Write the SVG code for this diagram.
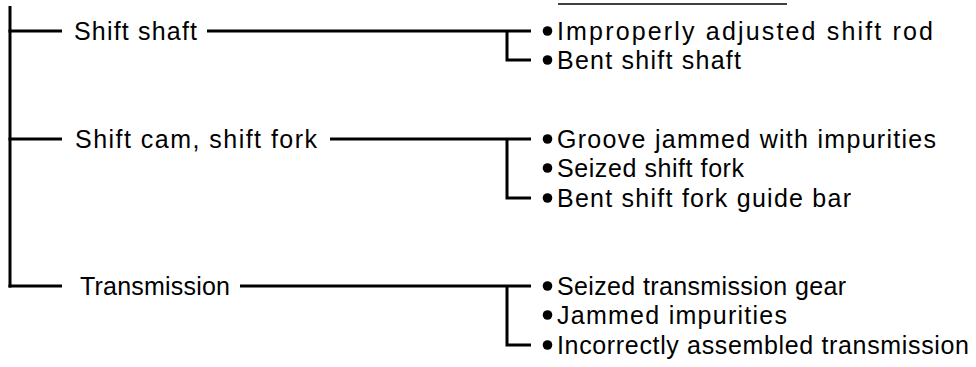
<svg xmlns="http://www.w3.org/2000/svg" width="976" height="367" viewBox="0 0 976 367">
<style>
  .ln { stroke: #000; stroke-width: 3; fill: none; stroke-linecap: butt; }
  .thin { stroke: #000; stroke-width: 1.4; fill: none; }
  .t { font-family: "Liberation Sans", Arial, sans-serif; font-size: 25px; fill: #000; }
  .dot { fill: #000; }
</style>
<rect width="976" height="367" fill="#fff"/>
<line class="thin" x1="558" y1="4" x2="787" y2="4"/>
<g id="connectors">
  <line class="ln" x1="10" y1="6" x2="10" y2="287.5"/>
  <line class="ln" x1="8.5" y1="31" x2="62" y2="31"/>
  <line class="ln" x1="8.5" y1="139" x2="62" y2="139"/>
  <line class="ln" x1="8.5" y1="286" x2="62" y2="286"/>
  <line class="ln" x1="207" y1="31" x2="531" y2="31"/>
  <polyline class="ln" points="507,31 507,60 531,60"/>
  <line class="ln" x1="330" y1="139" x2="531" y2="139"/>
  <polyline class="ln" points="507,139 507,198 531,198"/>
  <line class="ln" x1="240" y1="286" x2="531" y2="286"/>
  <polyline class="ln" points="507,286 507,345 531,345"/>
</g>
<g id="n-shift-shaft"><text class="t" x="74" y="39.5" textLength="123" lengthAdjust="spacing">Shift shaft</text></g>
<g id="n-shift-cam"><text class="t" x="75" y="147.5" textLength="242" lengthAdjust="spacing">Shift cam, shift fork</text></g>
<g id="n-transmission"><text class="t" x="80" y="294.5" textLength="150" lengthAdjust="spacing">Transmission</text></g>
<g id="c1"><circle class="dot" cx="547.5" cy="31" r="4.8"/><text class="t" x="557" y="39.5" textLength="376" lengthAdjust="spacing">Improperly adjusted shift rod</text></g>
<g id="c2"><circle class="dot" cx="547.5" cy="60" r="4.8"/><text class="t" x="557" y="68.5" textLength="184" lengthAdjust="spacing">Bent shift shaft</text></g>
<g id="c3"><circle class="dot" cx="547.5" cy="139" r="4.8"/><text class="t" x="557" y="147.5" textLength="379" lengthAdjust="spacing">Groove jammed with impurities</text></g>
<g id="c4"><circle class="dot" cx="547.5" cy="168" r="4.8"/><text class="t" x="557" y="176.5" textLength="187" lengthAdjust="spacing">Seized shift fork</text></g>
<g id="c5"><circle class="dot" cx="547.5" cy="198" r="4.8"/><text class="t" x="557" y="206.5" textLength="294" lengthAdjust="spacing">Bent shift fork guide bar</text></g>
<g id="c6"><circle class="dot" cx="547.5" cy="286" r="4.8"/><text class="t" x="557" y="294.5" textLength="289" lengthAdjust="spacing">Seized transmission gear</text></g>
<g id="c7"><circle class="dot" cx="547.5" cy="315" r="4.8"/><text class="t" x="557" y="323.5" textLength="230" lengthAdjust="spacing">Jammed impurities</text></g>
<g id="c8"><circle class="dot" cx="547.5" cy="345" r="4.8"/><text class="t" x="557" y="353.5" textLength="412" lengthAdjust="spacing">Incorrectly assembled transmission</text></g>
</svg>
